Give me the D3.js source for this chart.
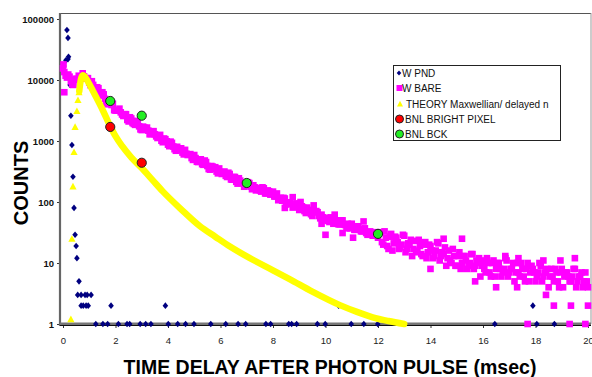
<!DOCTYPE html>
<html><head><meta charset="utf-8">
<script src="https://cdn.jsdelivr.net/npm/d3@7"></script>
<style>body{margin:0;background:#fff} svg{display:block;font-family:"Liberation Sans",Arial,sans-serif}</style>
</head><body><svg id="c" width="592" height="377"></svg>
<script>
// ---- data ----
const xTicks = [0,2,4,6,8,10,12,14,16,18,20];
const yTicks = [1,10,100,1000,10000,100000];
const seriesNames = ["W PND","W BARE","THEORY Maxwellian/ delayed n","BNL BRIGHT PIXEL","BNL BCK"];

const pndTime = [0.11,0.15,0.19,0.19,0.21,0.27,0.30,0.34,0.38,0.42,0.46,0.50,0.53,0.61,
  0.56,0.69,0.84,0.92,1.07,
  0.69,0.77,0.88,0.96,1.83,3.90,10.5,17.9,
  1.25,1.52,1.70,2.11,2.44,2.54,2.94,3.15,3.35,4.01,4.37,4.67,4.99,5.63,6.20,6.67,6.96,7.73,7.91,8.60,8.71,8.90,9.69,9.99,10.98,11.46,11.99,16.45,18.05,18.72];
const pndCounts = [21000,66000,49000,22000,24000,8300,2600,860,260,80,29,19,12,5,
  3,3,3,3,3,
  2,2,2,2,2,2,2,2,
  1,1,1,1,1,1,1,1,1,1,1,1,1,1,1,1,1,1,1,1,1,1,1,1,1,1,1,1,1,1];

const bareTime = [0.0,0.02,0.05,0.05,0.1,0.2,0.3,0.4,0.5,0.6,0.7,0.8,0.9,1.0,1.1,1.2,1.3,1.4,1.5,1.6,1.7,1.8,1.9,
  2.0,2.1,2.2,2.3,2.4,2.5,2.6,2.7,2.8,2.9,3.0,3.1,3.2,3.3,3.4,3.5,3.6,3.7,3.8,3.9,
  4.0,4.1,4.2,4.3,4.4,4.5,4.6,4.7,4.8,4.9,5.0,5.1,5.2,5.3,5.4,5.5,5.6,5.7,5.8,5.9,
  6.0,6.1,6.2,6.3,6.4,6.5,6.6,6.7,6.8,6.9,7.0,7.1,7.2,7.3,7.4,7.5,7.6,7.7,7.8,7.9,
  8.0,8.1,8.2,8.3,8.4,8.45,8.5,8.6,8.7,8.75,8.8,8.9,9.0,9.05,9.1,9.2,9.3,9.4,9.5,9.55,9.6,9.7,9.8,9.85,9.9,
  10.0,10.0,10.1,10.2,10.3,10.35,10.4,10.5,10.6,10.65,10.7,10.8,10.9,11.0,11.05,11.1,11.2,11.3,11.4,11.45,11.5,11.6,11.7,11.8,11.9,12.0,
  12.1,12.2,12.3,12.4,12.5,12.6,12.7,12.8,12.9,13.0,13.1,13.2,13.3,13.4,13.5,13.6,13.7,13.8,13.9,
  14.0,14.0,14.1,14.2,14.3,14.4,14.5,14.5,14.6,14.7,14.8,14.9,15.0,15.1,15.2,15.2,15.3,15.4,15.5,15.6,15.7,15.7,15.8,15.9,
  16.0,16.1,16.2,16.3,16.4,16.5,16.5,16.6,16.7,16.8,16.85,16.9,17.0,17.1,17.2,17.3,17.3,17.35,17.4,17.5,17.6,17.7,17.7,17.8,17.9,
  18.0,18.1,18.2,18.3,18.3,18.4,18.4,18.5,18.6,18.7,18.7,18.8,18.9,18.95,19.0,19.1,19.2,19.3,19.3,19.35,19.4,19.5,19.5,19.6,19.7,19.8,19.9,19.9,20.0,20.0];
const bareCounts = [15500,18000,6300,13500,11750,12300,9550,8300,10500,11750,10500,11500,10700,9100,9550,7100,7600,5900,6300,4900,4000,4270,4070,
  3160,3160,2950,2570,2750,2090,2340,1900,2140,1740,1510,1660,1660,1290,1320,1290,1120,1260,955,1070,
  871,977,813,692,759,759,603,617,603,525,589,457,501,417,479,389,339,380,372,295,
  309,302,269,302,234,257,214,245,204,178,200,204,162,174,170,155,174,138,155,132,
  148,123,107,117,117,80,91,95,93,120,85,95,74,100,85,71,81,68,59,88,68,68,54,44,56,
  55,29,49,56,44,62,50,43,50,31,43,37,43,44,26,35,37,36,33,48,37,29,33,28,32,26,
  32,20,26,17,30,21,26,17,20,28,17,20,13,23,15,19,13,22,15,
  19,8,12,16,21,13,14,25,9,16,10,13,9,15,10,25,13,8,10,14,9,5,10,6,
  11,7,10,6,11,8,4,10,6,8,13,11,7,8,5,10,4,12,6,8,5,10,1,7,8,
  5,7,9,6,11,7,3,4,8,5,2,7,4,11,8,6,7,5,1,2,6,8,12,5,6,4,7,1,4,2];

// second interleaved set of W BARE readings (half steps)
const bareTimeB = [0.15,0.25,0.35,0.45,0.55,0.65,0.75,0.85,0.95,1.05,1.15,1.25,1.35,1.45,1.55,1.65,1.75,1.85,1.95,
  2.05,2.15,2.25,2.35,2.45,2.55,2.65,2.75,2.85,2.95,3.05,3.15,3.25,3.35,3.45,3.55,3.65,3.75,3.85,3.95,
  4.05,4.15,4.25,4.35,4.45,4.55,4.65,4.75,4.85,4.95,5.05,5.15,5.25,5.35,5.45,5.55,5.65,5.75,5.85,5.95,
  6.05,6.15,6.25,6.35,6.45,6.55,6.65,6.75,6.85,6.95,7.05,7.15,7.25,7.35,7.45,7.55,7.65,7.75,7.85,7.95,
  8.05,8.15,8.25,8.35,8.45,8.55,8.65,8.75,8.85,8.95,9.05,9.15,9.25,9.35,9.45,9.55,9.65,9.75,9.85,9.95,
  10.05,10.15,10.25,10.35,10.45,10.55,10.65,10.75,10.85,10.95,11.05,11.15,11.25,11.35,11.45,11.55,11.65,11.75,11.85,11.95,
  12.15,12.25,12.35,12.45,12.55,12.65,12.75,12.85,12.95,13.05,13.15,13.25,13.35,13.45,13.55,13.65,13.75,13.85,13.95,
  14.05,14.15,14.25,14.35,14.45,14.55,14.65,14.75,14.85,14.95,15.05,15.15,15.25,15.35,15.45,15.55,15.65,15.75,15.85,15.95,
  16.05,16.15,16.25,16.35,16.45,16.55,16.65,16.75,16.85,16.95,17.05,17.15,17.25,17.35,17.45,17.55,17.65,17.75,17.85,17.95,
  18.05,18.15,18.25,18.35,18.45,18.55,18.65,18.75,18.85,18.95,19.05,19.15,19.25,19.35,19.45,19.55,19.65,19.75,19.85,19.95];
const bareCountsB = [10960,11350,8510,10120,10350,10590,12880,10720,10720,8220,8320,6920,7330,5560,5820,4220,4470,3890,3200,
  3160,3390,2720,2750,2210,2450,1970,1840,2020,1550,1720,1550,1480,1300,1450,1190,1170,1010,1100,990,
  822,933,733,804,708,646,716,589,610,490,525,452,501,407,452,347,389,351,316,355,
  288,316,257,288,232,257,200,224,204,186,211,178,188,155,168,148,168,138,150,136,
  123,138,111,105,114,94,99,81,91,87,81,81,66,74,63,72,71,59,62,50,
  54,47,54,45,44,43,50,42,44,37,40,35,40,33,36,31,31,30,30,30,
  22,33,19,27,16,27,22,18,29,15,21,24,17,16,24,14,20,12,20,
  16,13,22,11,15,18,12,11,17,9,13,8,13,11,9,14,8,11,12,9,
  8,12,7,10,6,10,8,7,12,6,8,10,7,7,10,6,8,5,9,7,
  6,10,5,7,8,6,6,8,5,7,4,7,6,5,8,4,6,7,5,5];

const theoryRiseTime = [0.30,0.34,0.38,0.42,0.46,0.53,0.57,0.61];
const theoryRiseCounts = [1.2,25,180,660,1700,3100,4700,6300];
const theoryTime = [0.62,0.66,0.70,0.76,0.82,0.95,1.14,1.52,1.79,2.0,2.25,2.6,3.0,3.43,3.81,4.5,5.22,5.8,6.36,7.12,8.0,8.65,9.5,10.55,11.2,11.8,12.4,13.0];
const theoryCounts = [6600,9000,11000,12000,11500,9400,6600,3160,1780,1200,830,540,360,224,148,76,40,27,18.6,12,7.6,5.4,3.4,2.04,1.58,1.29,1.12,1.0];

const brightTime = [1.8,3.0];
const brightCounts = [1700,440];
const bckTime = [1.8,3.0,7.0,12.0];
const bckCounts = [4530,2600,205,30];

// ---- chart ----
const svg = d3.select("#c");
const x = d3.scaleLinear().domain([0,20]).range([63,588]);
const y = d3.scaleLog().domain([1,100000]).range([324,19]);
const L = 60, T = 13, R = 591, B = 324;

// frame
svg.append("line").attr("x1",L).attr("x2",R).attr("y1",T+0.5).attr("y2",T+0.5).attr("stroke","#555").attr("stroke-width",1.2);
svg.append("line").attr("x1",R).attr("x2",R).attr("y1",T).attr("y2",B).attr("stroke","#999").attr("stroke-width",1);

// axes
const ya = svg.append("g").attr("transform",`translate(${L},0)`)
  .call(d3.axisLeft(y).tickValues(yTicks).tickSize(3).tickPadding(3).tickFormat(d3.format("d")));
ya.select(".domain").remove();
ya.selectAll("text").attr("font-size","9.5px").attr("font-weight","bold").attr("fill","#111")
  .attr("font-family","'Liberation Sans',Arial,sans-serif");
ya.selectAll("line").attr("stroke","#333");

const xa = svg.append("g").attr("transform",`translate(0,${B+1})`)
  .call(d3.axisBottom(x).tickValues(xTicks).tickSize(3).tickPadding(9).tickFormat(d3.format("d")));
xa.select(".domain").remove();
xa.selectAll("text").attr("font-size","9.5px").attr("fill","#222")
  .attr("font-family","'Liberation Sans',Arial,sans-serif");
xa.selectAll("line").attr("stroke","#333");

svg.append("line").attr("x1",L).attr("x2",L).attr("y1",T).attr("y2",B+2).attr("stroke","#666").attr("stroke-width",2.2);
svg.append("line").attr("x1",L).attr("x2",R).attr("y1",B-0.2).attr("y2",B-0.2).attr("stroke","#777").attr("stroke-width",2.4);
svg.append("line").attr("x1",L).attr("x2",R).attr("y1",B+1.5).attr("y2",B+1.5).attr("stroke","#111").attr("stroke-width",1.2);

// titles
svg.append("text").attr("x",330).attr("y",374).attr("text-anchor","middle")
  .attr("font-size","19.5px").attr("font-weight","bold").attr("fill","#000")
  .text("TIME DELAY AFTER PHOTON PULSE (msec)");
svg.append("text").attr("transform","translate(28,183) rotate(-90)").attr("text-anchor","middle")
  .attr("font-size","20px").attr("font-weight","bold").attr("fill","#000").text("COUNTS");

const diamond = "M0,-3.3L2.8,0L0,3.3L-2.8,0Z";
const tri = "M0,-3.6L3.6,3L-3.6,3Z";

// W PND
svg.append("g").selectAll("path").data(pndTime.map((t,i)=>[t,pndCounts[i]])).join("path")
  .attr("d",diamond).attr("transform",d=>`translate(${x(d[0])},${y(d[1])})`).attr("fill","#000080");

// W BARE
const bare = bareTime.map((t,i)=>[t,bareCounts[i]]).concat(bareTimeB.map((t,i)=>[t,bareCountsB[i]]));
svg.append("g").selectAll("rect").data(bare).join("rect")
  .attr("x",d=>x(d[0])-3.3).attr("y",d=>y(d[1])-3.3).attr("width",6.6).attr("height",6.6).attr("fill","#ff00ff");

// THEORY
svg.append("path").datum(theoryTime.map((t,i)=>[t,theoryCounts[i]]))
  .attr("d",d3.line().x(d=>x(d[0])).y(d=>y(d[1])).curve(d3.curveMonotoneX))
  .attr("fill","none").attr("stroke","#ffff00").attr("stroke-width",6.5).attr("stroke-linecap","round");
svg.append("g").selectAll("path").data(theoryRiseTime.map((t,i)=>[t,theoryRiseCounts[i]])).join("path")
  .attr("d",tri).attr("transform",d=>`translate(${x(d[0])},${y(d[1])})`).attr("fill","#ffff00");

// BNL
svg.append("g").selectAll("circle").data(brightTime.map((t,i)=>[t,brightCounts[i]])).join("circle")
  .attr("cx",d=>x(d[0])).attr("cy",d=>y(d[1])).attr("r",4.6).attr("fill","#ff0000").attr("stroke","#222").attr("stroke-width",1);
svg.append("g").selectAll("circle").data(bckTime.map((t,i)=>[t,bckCounts[i]])).join("circle")
  .attr("cx",d=>x(d[0])).attr("cy",d=>y(d[1])).attr("r",4.6).attr("fill","#22ee22").attr("stroke","#222").attr("stroke-width",1);

// legend
const lg = svg.append("g");
lg.append("rect").attr("x",393.5).attr("y",65.5).attr("width",167).attr("height",75).attr("fill","#fff").attr("stroke","#222").attr("stroke-width",1);
const rowsY = [73,88,104,119,134];
const mk = lg.selectAll("g.it").data(seriesNames).join("g").attr("class","it")
  .attr("transform",(d,i)=>`translate(0,${rowsY[i]})`);
mk.each(function(d,i){
  const g = d3.select(this);
  if(i===0) g.append("path").attr("d","M0,-2.6L2.3,0L0,2.6L-2.3,0Z").attr("transform","translate(399,0)").attr("fill","#000080");
  if(i===1) g.append("rect").attr("x",396.5).attr("y",-3).attr("width",6).attr("height",6).attr("fill","#ff00ff");
  if(i===2) g.append("path").attr("d","M0,-3.2L3,2.6L-3,2.6Z").attr("transform","translate(400,0)").attr("fill","#ffff00");
  if(i===3) g.append("circle").attr("cx",399.5).attr("cy",0).attr("r",4).attr("fill","#ff0000").attr("stroke","#222");
  if(i===4) g.append("circle").attr("cx",399.5).attr("cy",0).attr("r",4).attr("fill","#22ee22").attr("stroke","#222");
  const tx = [402,402,406,405,405][i];
  g.append("text").attr("x",tx).attr("y",3.5).attr("font-size","10px").attr("fill","#111").text(d);
});
</script>
</body></html>
